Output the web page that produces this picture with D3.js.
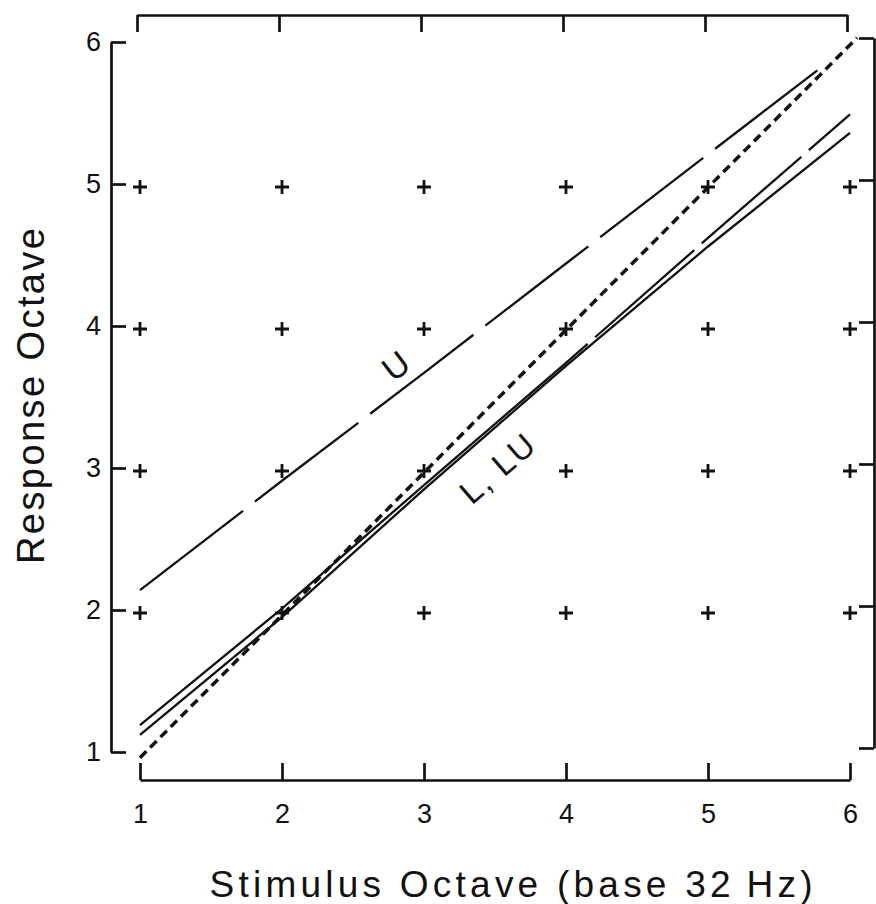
<!DOCTYPE html>
<html>
<head>
<meta charset="utf-8">
<script src="https://cdn.jsdelivr.net/npm/d3@7"></script>
<style>
  body { margin: 0; background: #fff; }
  svg { display: block; font-family: "Liberation Sans", Arial, Helvetica, sans-serif; }
  .axis path, .axis line { stroke: #111; stroke-width: 2.7; }
  .axis text { font-size: 27px; fill: #111; }
  .plus { stroke: #111; stroke-width: 2.8; fill: none; }
  .curve { fill: none; stroke: #111; }
  .label { fill: #111; }
</style>
</head>
<body>
<svg id="chart" width="876" height="904"></svg>
<script>
// tick values
const xTicks = [1, 2, 3, 4, 5, 6];
const yTicks = [1, 2, 3, 4, 5, 6];

// reference crosses on the grid
const crossX = [1, 2, 3, 4, 5, 6];
const crossY = [2, 3, 4, 5];

// stimulus octaves and response octaves
const stimulus = [1, 2, 3, 4, 5, 6];
const responseL = [1.12, 1.95, 2.85, 3.72, 4.56, 5.36];
const responseLU = [1.19, 2.01, 2.88, 3.74, 4.62, 5.49];
const stimulusU = [1, 2, 3, 4, 5, 5.77];
const responseU = [2.14, 2.91, 3.67, 4.44, 5.21, 5.80];
const stimulusId = [1, 6.05];
const responseId = [0.96, 6.03];

const svg = d3.select("#chart");

const x = d3.scaleLinear().domain([1, 6]).range([140, 850]);
const y = d3.scaleLinear().domain([1, 6]).range([752, 42]);

/* Axes: a broken frame, ticks pointing inward */
svg.append("g")
  .attr("class", "axis")
  .attr("transform", "translate(0,780)")
  .call(d3.axisBottom(x).tickValues(xTicks).tickSizeInner(-17).tickSizeOuter(0).tickPadding(24).tickFormat(d3.format("d")));

svg.append("g")
  .attr("class", "axis")
  .attr("transform", "translate(-3,15)")
  .call(d3.axisTop(x).tickValues(xTicks).tickSizeInner(-17).tickSizeOuter(0).tickFormat(""));

svg.append("g")
  .attr("class", "axis")
  .attr("transform", "translate(111,0)")
  .call(d3.axisLeft(y).tickValues(yTicks).tickSizeInner(-15).tickSizeOuter(0).tickPadding(10).tickFormat(d3.format("d")));

svg.append("g")
  .attr("class", "axis")
  .attr("transform", "translate(874,-4)")
  .call(d3.axisRight(y).tickValues(yTicks).tickSizeInner(-15).tickSizeOuter(0).tickFormat(""));

/* Crosses */
const grid = d3.cross(crossX, crossY);
svg.append("g")
  .selectAll("path")
  .data(grid)
  .join("path")
  .attr("class", "plus")
  .attr("transform", (d) => `translate(${x(d[0])},${y(d[1]) + 3})`)
  .attr("d", "M-7,0H7M0,-7V7");

/* Lines */
const line = d3.line().x((d) => x(d[0])).y((d) => y(d[1]));

svg.append("path")
  .attr("class", "curve")
  .attr("d", line(d3.zip(stimulusId, responseId)))
  .attr("stroke-width", 3.5)
  .attr("stroke-dasharray", "9,5.5");

svg.append("path")
  .attr("class", "curve")
  .attr("d", line(d3.zip(stimulus, responseL)))
  .attr("stroke-width", 2.3);

svg.append("path")
  .attr("class", "curve")
  .attr("d", line(d3.zip(stimulus, responseLU)))
  .attr("stroke-width", 2.3)
  .attr("stroke-dasharray", "588,10,132,10,132,10,200");

svg.append("path")
  .attr("class", "curve")
  .attr("d", line(d3.zip(stimulusU, responseU)))
  .attr("stroke-width", 2.3)
  .attr("stroke-dasharray", "130,15");

/* Curve labels */
const angle = (xs, ys) =>
  (Math.atan2(y(ys[ys.length - 1]) - y(ys[0]), x(xs[xs.length - 1]) - x(xs[0])) * 180) / Math.PI;

svg.append("text")
  .attr("class", "label")
  .attr("transform", `translate(${x(2.8)},${y(3.72)}) rotate(${angle(stimulusU, responseU)})`)
  .attr("text-anchor", "middle")
  .attr("dominant-baseline", "central")
  .attr("font-size", 34)
  .text("U");

svg.append("text")
  .attr("class", "label")
  .attr("transform", `translate(${x(3.52)},${y(3.0)}) rotate(${angle(stimulus, responseLU)})`)
  .attr("text-anchor", "middle")
  .attr("dominant-baseline", "central")
  .attr("font-size", 33)
  .attr("letter-spacing", 2)
  .text("L, LU");

/* Axis titles */
svg.append("text")
  .attr("class", "label")
  .attr("x", 511)
  .attr("y", 897)
  .attr("text-anchor", "middle")
  .attr("font-size", 37)
  .attr("textLength", 603)
  .attr("lengthAdjust", "spacing")
  .text("Stimulus Octave  (base 32\u2009Hz)");

svg.append("text")
  .attr("class", "label")
  .attr("transform", "translate(44,396) rotate(-90)")
  .attr("text-anchor", "middle")
  .attr("font-size", 38)
  .attr("textLength", 336)
  .attr("lengthAdjust", "spacing")
  .text("Response Octave");
</script>
</body>
</html>
